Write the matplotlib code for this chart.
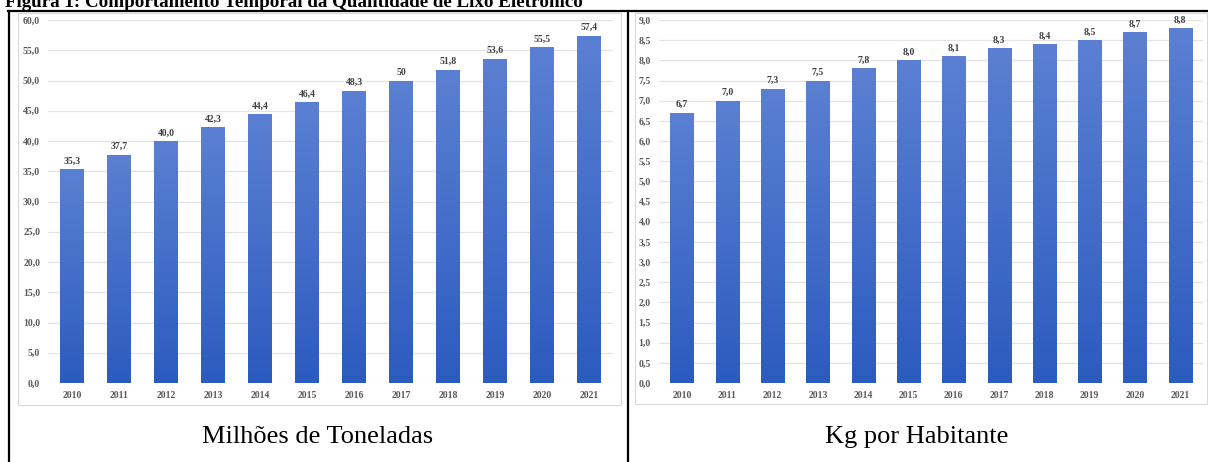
import numpy as np
import matplotlib.pyplot as plt
from matplotlib.lines import Line2D
from matplotlib.patches import Rectangle

plt.rcParams['font.family'] = ['Liberation Serif', 'DejaVu Serif']

# data
anos = ['2010', '2011', '2012', '2013', '2014', '2015',
        '2016', '2017', '2018', '2019', '2020', '2021']
milhoes_ton = [35.3, 37.7, 40.0, 42.3, 44.4, 46.4, 48.3, 50.0, 51.8, 53.6, 55.5, 57.4]
rotulos_ton = ['35,3', '37,7', '40,0', '42,3', '44,4', '46,4',
               '48,3', '50', '51,8', '53,6', '55,5', '57,4']
kg_hab = [6.7, 7.0, 7.3, 7.5, 7.8, 8.0, 8.1, 8.3, 8.4, 8.5, 8.7, 8.8]
rotulos_kg = ['6,7', '7,0', '7,3', '7,5', '7,8', '8,0',
              '8,1', '8,3', '8,4', '8,5', '8,7', '8,8']

W, H = 1208, 462
fig = plt.figure(figsize=(W / 100, H / 100), dpi=100)


def px(x0, y0, x1, y1):
    # pixel box (top-left origin) -> figure fraction rect
    return [x0 / W, 1 - y1 / H, (x1 - x0) / W, (y1 - y0) / H]


grad = np.linspace(0, 1, 256).reshape(-1, 1)
cmap = plt.matplotlib.colors.LinearSegmentedColormap.from_list(
    'azul', ['#2c5bbf', '#5b80d3'])


def grafico(rect, valores, rotulos, ymax, passo, offset):
    ax = fig.add_axes(rect)
    x = np.arange(len(anos))
    bars = ax.bar(x, valores, width=0.51, color='none', zorder=2)
    for b in bars:
        x0, w, h = b.get_x(), b.get_width(), b.get_height()
        im = ax.imshow(grad, cmap=cmap, origin='lower', aspect='auto',
                       extent=(x0, x0 + w, 0, h), zorder=2)
        im.set_clip_path(Rectangle((x0, 0), w, h, transform=ax.transData))
    for xi, v, r in zip(x, valores, rotulos):
        ax.text(xi, v + offset, r, ha='center', va='bottom', fontsize=7,
                fontweight='bold', color='#404040')
    ax.set_xlim(-0.5, len(anos) - 0.5)
    ax.set_ylim(0, ymax)
    ticks = np.arange(0, ymax + passo / 2, passo)
    ax.set_yticks(ticks)
    ax.set_yticklabels([f'{t:.1f}'.replace('.', ',') for t in ticks])
    ax.set_xticks(x)
    ax.set_xticklabels(anos)
    ax.tick_params(length=0, labelsize=7, labelcolor='#595959', pad=6)
    for lab in ax.get_xticklabels() + ax.get_yticklabels():
        lab.set_fontweight('bold')
    ax.yaxis.grid(True, color='#e3e3e3', lw=0.9, zorder=0)
    ax.set_axisbelow(True)
    for s in ax.spines.values():
        s.set_visible(False)
    return ax


# chart frames
for (x0, y0, x1, y1) in [(18, 13, 621, 405), (635, 13, 1207, 404)]:
    fig.patches.append(Rectangle((x0 / W, 1 - y1 / H), (x1 - x0) / W, (y1 - y0) / H,
                                 transform=fig.transFigure, fill=False,
                                 ec='#d9d9d9', lw=0.8))

grafico(px(48.5, 20, 612.5, 383), milhoes_ton, rotulos_ton, 60, 5, 0.6)
grafico(px(659.3, 20, 1203, 383), kg_hab, rotulos_kg, 9, 0.5, 0.09)

# table lines
lw = 1.6
fig.add_artist(Line2D([8 / W, 1], [1 - 11 / H] * 2, color='black', lw=lw))
fig.add_artist(Line2D([9 / W] * 2, [0, 1 - 11 / H], color='black', lw=lw))
fig.add_artist(Line2D([628 / W] * 2, [0, 1 - 11 / H], color='black', lw=lw))

fig.text(5 / W, 1 - 7 / H, 'Figura 1: Comportamento Temporal da Quantidade de Lixo Eletrônico',
         fontsize=13.7, fontweight='bold', va='baseline', ha='left')
fig.text(318 / W, 1 - 437 / H, 'Milhões de Toneladas', fontsize=19, ha='center', va='center')
fig.text(917 / W, 1 - 437 / H, 'Kg por Habitante', fontsize=19, ha='center', va='center')

fig.savefig('out.png', dpi=100, facecolor='white')
